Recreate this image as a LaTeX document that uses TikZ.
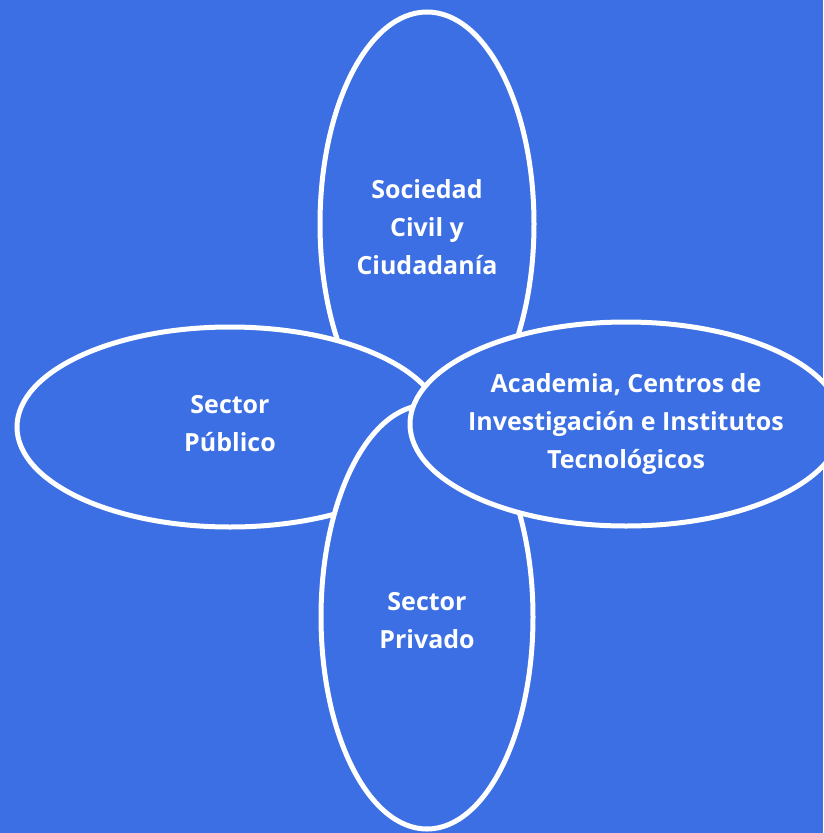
\documentclass[tikz,border=0pt]{standalone}
\usepackage{fontspec}
\setmainfont{Open Sans}
\usetikzlibrary{shapes.geometric}
\definecolor{fondo}{RGB}{59,111,227}
\tikzset{
  petalo/.style={ellipse,draw=white,line width=5pt,fill=fondo,inner sep=0pt},
  etiqueta/.style={text=white,align=center,font=\fontsize{25}{38}\selectfont\bfseries}
}

\begin{document}
\begin{tikzpicture}[x=1pt,y=-1pt]
        \fill[fondo] (0,0) rectangle (823,833);
        \useasboundingbox (0,0) rectangle (823,833);
        % petalos, del fondo hacia el frente
        \node[petalo,minimum width=214pt,minimum height=424pt] (SC) at (427,224) {};
        \node[petalo,minimum width=426pt,minimum height=200pt] (SP) at (230,427) {};
        \node[petalo,minimum width=212pt,minimum height=424pt] (PR) at (427,617) {};
        \node[petalo,minimum width=432pt,minimum height=204pt] (AC) at (626,424) {};
        % textos
        \node[etiqueta] (tSC) at (427,227) {Sociedad\\Civil y\\Ciudadanía};
        \node[etiqueta] (tSP) at (230,424) {Sector\\Público};
        \node[etiqueta] (tPR) at (427,621) {Sector\\Privado};
        \node[etiqueta] (tAC) at (AC) {Academia, Centros de\\Investigación e Institutos\\Tecnológicos};
      \end{tikzpicture}
\end{document}
